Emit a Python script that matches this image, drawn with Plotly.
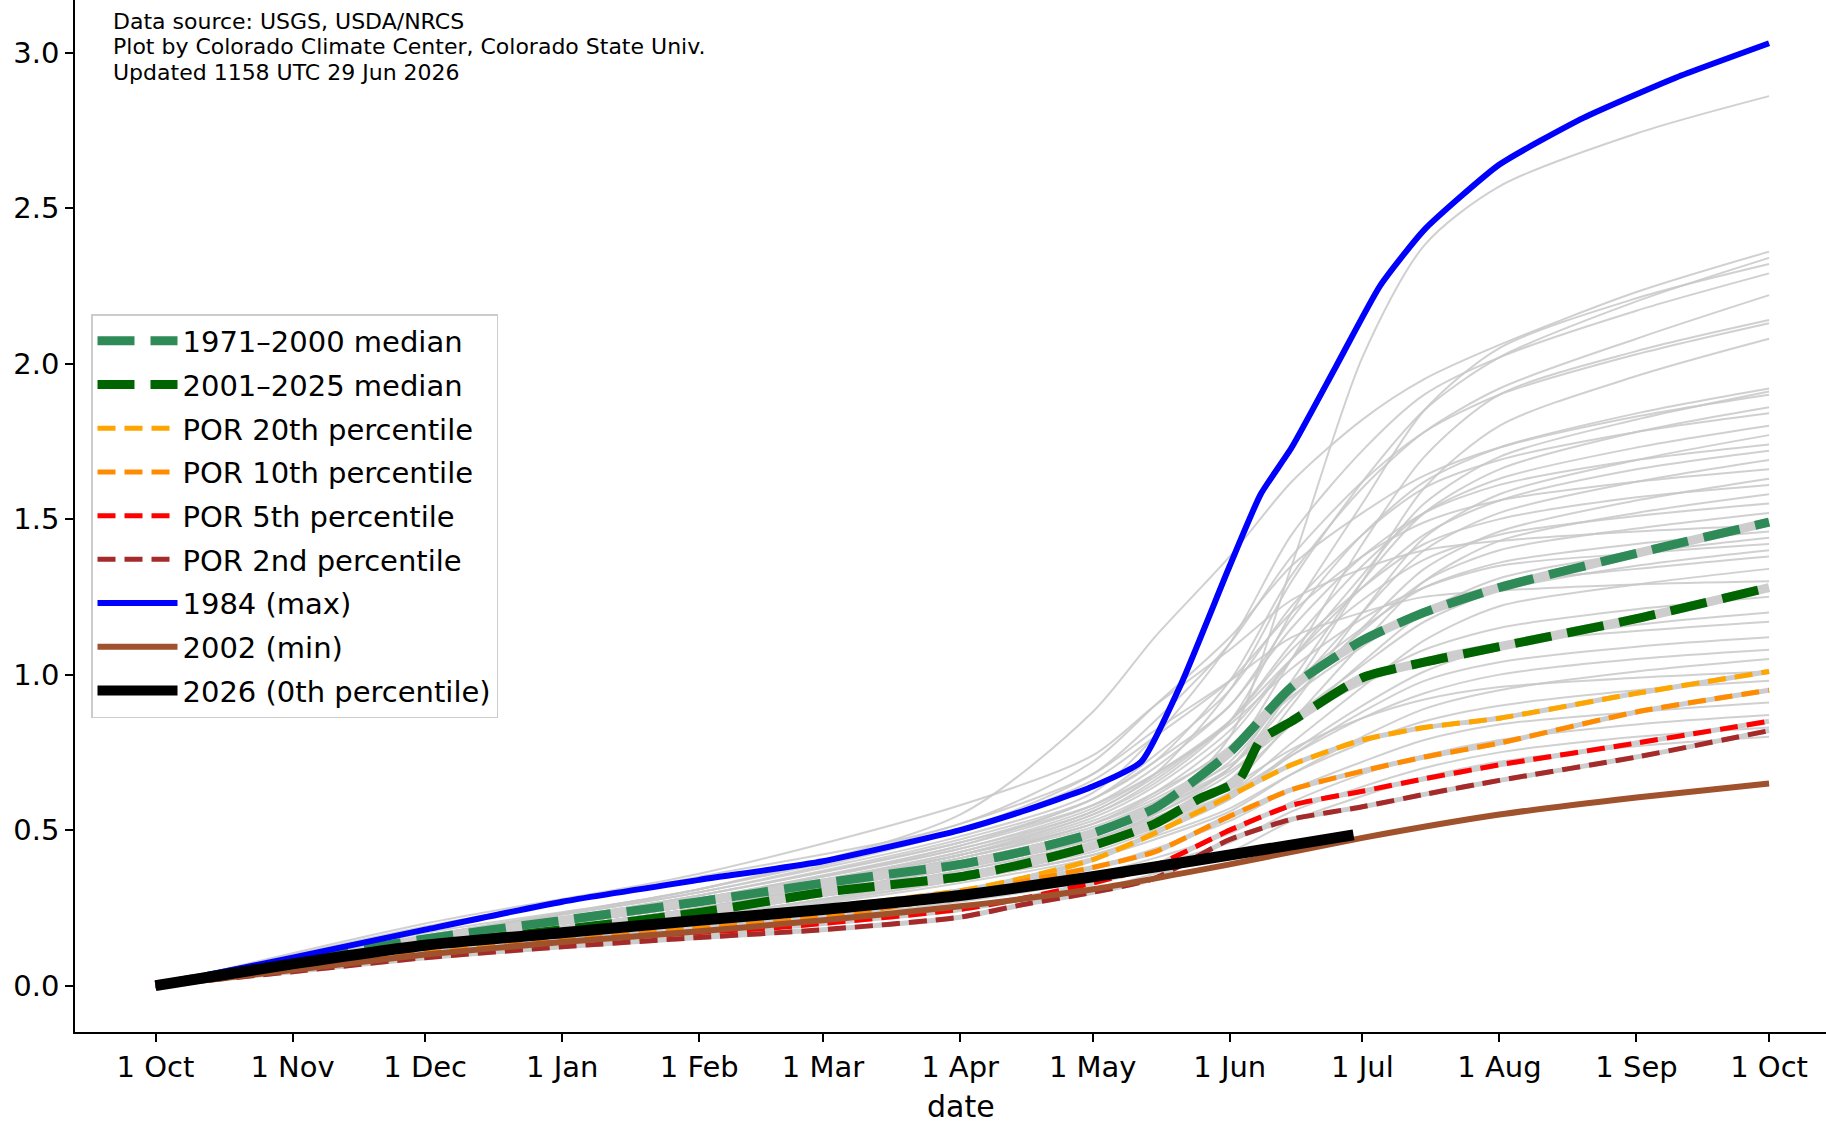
import plotly.graph_objects as go

FONT = "DejaVu Sans"

# ---------------- data ----------------
# grid of dates used for the grey period-of-record years
GREY_DATES = ["2025-10-01", "2025-12-01", "2026-02-01", "2026-04-01", "2026-05-01",
              "2026-05-15", "2026-06-01", "2026-06-15", "2026-07-01", "2026-07-15",
              "2026-08-01", "2026-09-01", "2026-10-01"]

POR_YEARS_VALUES = [
    [0, .13, .25, .40, .50, .57, .80, 1.35, 2.02, 2.38, 2.57, 2.74, 2.86],
    [0, .17, .31, .55, .88, 1.12, 1.38, 1.62, 1.82, 1.95, 2.06, 2.23, 2.36],
    [0, .15, .28, .44, .56, .68, .95, 1.30, 1.62, 1.85, 2.02, 2.20, 2.34],
    [0, .14, .27, .42, .55, .65, .85, 1.20, 1.55, 1.85, 2.05, 2.21, 2.32],
    [0, .16, .30, .48, .62, .80, 1.10, 1.45, 1.72, 1.90, 2.02, 2.17, 2.29],
    [0, .15, .29, .47, .60, .72, .98, 1.32, 1.60, 1.78, 1.92, 2.08, 2.22],
    [0, .14, .26, .41, .52, .60, .75, 1.05, 1.42, 1.70, 1.90, 2.04, 2.14],
    [0, .16, .30, .50, .68, .85, 1.10, 1.38, 1.62, 1.78, 1.90, 2.03, 2.13],
    [0, .13, .25, .40, .50, .58, .70, .95, 1.30, 1.60, 1.80, 1.96, 2.08],
    [0, .15, .28, .45, .60, .72, .90, 1.18, 1.45, 1.62, 1.73, 1.84, 1.92],
    [0, .14, .26, .42, .52, .62, .80, 1.05, 1.32, 1.55, 1.70, 1.82, 1.91],
    [0, .19, .35, .52, .72, .90, 1.12, 1.35, 1.52, 1.64, 1.73, 1.83, 1.90],
    [0, .13, .24, .38, .47, .55, .70, .98, 1.30, 1.52, 1.66, 1.78, 1.86],
    [0, .15, .29, .46, .60, .74, .95, 1.22, 1.45, 1.60, 1.69, 1.78, 1.84],
    [0, .14, .27, .43, .55, .66, .85, 1.10, 1.35, 1.52, 1.63, 1.73, 1.80],
    [0, .12, .23, .37, .46, .53, .66, .90, 1.20, 1.44, 1.58, 1.69, 1.77],
    [0, .15, .28, .45, .58, .70, .90, 1.15, 1.38, 1.52, 1.61, 1.69, 1.74],
    [0, .14, .26, .42, .54, .64, .82, 1.05, 1.28, 1.45, 1.56, 1.66, 1.72],
    [0, .13, .25, .39, .49, .57, .72, .95, 1.20, 1.40, 1.52, 1.62, 1.69],
    [0, .16, .31, .50, .66, .80, .98, 1.20, 1.38, 1.49, 1.56, 1.62, 1.66],
    [0, .13, .24, .38, .48, .56, .70, .92, 1.15, 1.34, 1.46, 1.56, 1.63],
    [0, .14, .27, .43, .56, .67, .85, 1.08, 1.28, 1.42, 1.50, 1.57, 1.61],
    [0, .12, .23, .36, .45, .52, .64, .85, 1.10, 1.30, 1.43, 1.52, 1.58],
    [0, .15, .28, .44, .57, .68, .85, 1.05, 1.24, 1.37, 1.45, 1.51, 1.55],
    [0, .13, .25, .40, .50, .59, .74, .94, 1.14, 1.30, 1.40, 1.47, 1.52],
    [0, .20, .36, .58, .74, .90, 1.08, 1.24, 1.34, 1.40, 1.43, 1.46, 1.48],
    [0, .14, .26, .41, .52, .61, .77, .97, 1.15, 1.28, 1.36, 1.42, 1.46],
    [0, .12, .23, .37, .46, .54, .66, .84, 1.04, 1.20, 1.31, 1.39, 1.44],
    [0, .15, .29, .46, .58, .68, .84, 1.02, 1.18, 1.28, 1.35, 1.39, 1.42],
    [0, .13, .24, .38, .47, .55, .68, .86, 1.03, 1.17, 1.27, 1.35, 1.40],
    [0, .14, .27, .42, .53, .62, .76, .93, 1.09, 1.21, 1.29, 1.34, 1.38],
    [0, .12, .22, .35, .44, .51, .62, .78, .96, 1.11, 1.22, 1.29, 1.34],
    [0, .16, .31, .52, .68, .82, .98, 1.12, 1.20, 1.25, 1.27, 1.29, 1.30],
    [0, .13, .25, .39, .49, .57, .69, .84, .98, 1.08, 1.15, 1.21, 1.25],
    [0, .12, .22, .35, .43, .50, .60, .75, .90, 1.01, 1.09, 1.16, 1.20],
    [0, .14, .26, .41, .51, .59, .71, .85, .97, 1.05, 1.10, 1.14, 1.17],
    [0, .11, .21, .34, .42, .49, .60, .74, .88, .98, 1.04, 1.09, 1.12],
    [0, .12, .23, .36, .45, .52, .62, .74, .86, .94, 1.00, 1.05, 1.08],
    [0, .11, .21, .33, .41, .47, .56, .68, .80, .89, .95, 1.01, 1.05],
    [0, .13, .24, .38, .47, .54, .64, .76, .86, .92, .96, .99, 1.01],
    [0, .12, .22, .34, .42, .48, .57, .68, .78, .85, .90, .95, .98],
    [0, .11, .20, .31, .38, .44, .53, .63, .72, .79, .84, .88, .91],
    [0, .10, .19, .29, .36, .41, .49, .59, .68, .74, .79, .84, .87],
    [0, .10, .18, .27, .34, .39, .46, .56, .64, .70, .75, .80, .83],
    [0, .09, .17, .25, .31, .36, .43, .53, .61, .67, .72, .77, .80],
]

PCT_DATES = ["2025-10-01", "2025-11-01", "2025-12-01", "2026-01-01", "2026-02-01",
             "2026-03-01", "2026-04-01", "2026-04-15", "2026-05-01", "2026-05-15",
             "2026-06-01", "2026-06-15", "2026-07-01", "2026-07-15", "2026-08-01",
             "2026-09-01", "2026-10-01"]

MEDIAN_1971_2000 = [0, .08, .15, .21, .27, .33, .39, .43, .49, .57, .75, .96, 1.11, 1.20, 1.28, 1.39, 1.49]

MEDIAN_2001_2025_DATES = ["2025-10-01", "2025-11-01", "2025-12-01", "2026-01-01", "2026-02-01",
                          "2026-03-01", "2026-04-01", "2026-04-15", "2026-05-01", "2026-05-15",
                          "2026-05-25", "2026-06-03", "2026-06-08", "2026-06-15", "2026-07-01",
                          "2026-07-15", "2026-08-01", "2026-09-01", "2026-10-01"]
MEDIAN_2001_2025 = [0, .07, .13, .18, .235, .30, .35, .39, .45, .52, .60, .66, .79, .85, .99, 1.04, 1.09, 1.18, 1.28]

P20 = [0, .06, .115, .16, .205, .25, .305, .345, .405, .49, .61, .71, .79, .83, .86, .94, 1.01]
P10 = [0, .055, .105, .145, .185, .22, .29, .335, .38, .43, .545, .63, .69, .735, .78, .88, .95]
P05 = [0, .05, .095, .13, .165, .20, .245, .28, .33, .385, .50, .58, .625, .665, .71, .78, .85]
P02 = [0, .045, .09, .125, .155, .18, .22, .26, .30, .345, .47, .535, .575, .615, .66, .735, .82]

MAX_1984_DATES = ["2025-10-01", "2025-11-01", "2025-12-01", "2026-01-01", "2026-02-01",
                  "2026-03-01", "2026-04-01", "2026-04-15", "2026-05-01", "2026-05-12",
                  "2026-05-21", "2026-06-01", "2026-06-08", "2026-06-15", "2026-06-25",
                  "2026-07-05", "2026-07-15", "2026-08-01", "2026-08-20", "2026-09-10",
                  "2026-10-01"]
MAX_1984 = [0, .09, .18, .27, .34, .40, .50, .56, .64, .72, .97, 1.35, 1.58, 1.73, 1.99,
            2.25, 2.43, 2.64, 2.79, 2.92, 3.03]

MONTH_DATES = ["2025-10-01", "2025-11-01", "2025-12-01", "2026-01-01", "2026-02-01",
               "2026-03-01", "2026-04-01", "2026-05-01", "2026-06-01", "2026-07-01",
               "2026-08-01", "2026-09-01", "2026-10-01"]
MIN_2002 = [0, .05, .10, .14, .175, .21, .255, .31, .39, .475, .55, .605, .65]

CUR_2026_DATES = ["2025-10-01", "2025-11-01", "2025-12-01", "2026-01-01", "2026-02-01",
                  "2026-03-01", "2026-04-01", "2026-05-01", "2026-06-01", "2026-06-29"]
CUR_2026 = [0, .07, .13, .17, .21, .245, .29, .35, .42, .485]

Y_TICKS = [0.0, 0.5, 1.0, 1.5, 2.0, 2.5, 3.0]
X_TICKS = MONTH_DATES

NOTE_LINES = ["Data source: USGS, USDA/NRCS",
              "Plot by Colorado Climate Center, Colorado State Univ.",
              "Updated 1158 UTC 29 Jun 2026"]

# ---------------- figure ----------------
GREY = "rgba(200,200,200,0.85)"
fig = go.Figure()

for vals in POR_YEARS_VALUES:
    fig.add_trace(go.Scatter(x=GREY_DATES, y=vals, mode="lines", showlegend=False,
                             hoverinfo="skip",
                             line=dict(color=GREY, width=2, shape="spline", smoothing=0.8)))

dashed = [
    ("1971\u20132000 median", PCT_DATES, MEDIAN_1971_2000, "#2e8b57", 9, "37px,16px"),
    ("2001\u20132025 median", MEDIAN_2001_2025_DATES, MEDIAN_2001_2025, "#006400", 9, "37px,16px"),
    ("POR 20th percentile", PCT_DATES, P20, "#ffa500", 5, "18px,9px"),
    ("POR 10th percentile", PCT_DATES, P10, "#ff8c00", 5, "18px,9px"),
    ("POR 5th percentile", PCT_DATES, P05, "#ff0000", 5, "18px,9px"),
    ("POR 2nd percentile", PCT_DATES, P02, "#a52a2a", 5, "18px,9px"),
]
for i, (name, xd, yd, col, w, dash) in enumerate(dashed):
    fig.add_trace(go.Scatter(x=xd, y=yd, mode="lines", showlegend=False, hoverinfo="skip",
                             line=dict(color="#cdcdcd", width=w, shape="spline", smoothing=0.6)))
    fig.add_trace(go.Scatter(x=xd, y=yd, mode="lines", name=name, legendgroup=f"g{i}",
                             line=dict(color=col, width=w, dash=dash, shape="spline", smoothing=0.6)))

fig.add_trace(go.Scatter(x=MAX_1984_DATES, y=MAX_1984, mode="lines", name="1984 (max)",
                         legendgroup="g6",
                         line=dict(color="#0000ff", width=6, shape="spline", smoothing=0.5)))
fig.add_trace(go.Scatter(x=MONTH_DATES, y=MIN_2002, mode="lines", name="2002 (min)",
                         legendgroup="g7",
                         line=dict(color="#a0522d", width=6, shape="spline", smoothing=0.6)))
fig.add_trace(go.Scatter(x=CUR_2026_DATES, y=CUR_2026, mode="lines", name="2026 (0th percentile)",
                         legendgroup="g8",
                         line=dict(color="#000000", width=11, shape="spline", smoothing=0.6)))

L, B = 75, 92
W, H = 1826, 1124
PW, PH = W - L, H - B

annotations = []
for k, txt in enumerate(NOTE_LINES):
    yc = 21 + 25.6 * k
    annotations.append(dict(text=txt, xref="paper", yref="paper", x=(111 - L) / PW,
                            y=1 - yc / PH, xanchor="left", yanchor="middle", showarrow=False,
                            font=dict(family=FONT, size=22, color="black")))
annotations.append(dict(text="date", xref="paper", yref="paper", x=(961 - L) / PW,
                        y=(PH - 1106) / PH, xanchor="center", yanchor="middle",
                        showarrow=False, font=dict(family=FONT, size=30, color="black")))

fig.update_layout(
    width=W, height=H,
    margin=dict(l=L, r=0, t=0, b=B, pad=0),
    paper_bgcolor="white", plot_bgcolor="white",
    font=dict(family=FONT, color="black"),
    annotations=annotations,
    legend=dict(x=(91 - L) / PW, y=1 - 314 / PH, xanchor="left", yanchor="top",
                bgcolor="rgba(255,255,255,0.85)", bordercolor="#cccccc", borderwidth=1.5,
                font=dict(family=FONT, size=29, color="black"),
                itemwidth=80, tracegroupgap=3, traceorder="grouped"),
    xaxis=dict(type="date", range=["2025-09-12 19:00", "2026-10-13 21:00"],
               tickvals=X_TICKS, tickformat="%-d %b", ticks="outside", ticklen=8,
               tickwidth=1.5, tickcolor="black", showline=True, linecolor="black",
               linewidth=1.5, showgrid=False, zeroline=False,
               tickfont=dict(family=FONT, size=29, color="black")),
    yaxis=dict(range=[-0.149, 3.169], tickvals=Y_TICKS, tickformat=".1f",
               ticks="outside", ticklen=8, tickwidth=1.5, tickcolor="black",
               showline=True, linecolor="black", linewidth=1.5, showgrid=False,
               zeroline=False, tickfont=dict(family=FONT, size=29, color="black")),
)

fig.write_html("out.html", config={"displayModeBar": False},
               post_script="document.body.style.margin='0';")
